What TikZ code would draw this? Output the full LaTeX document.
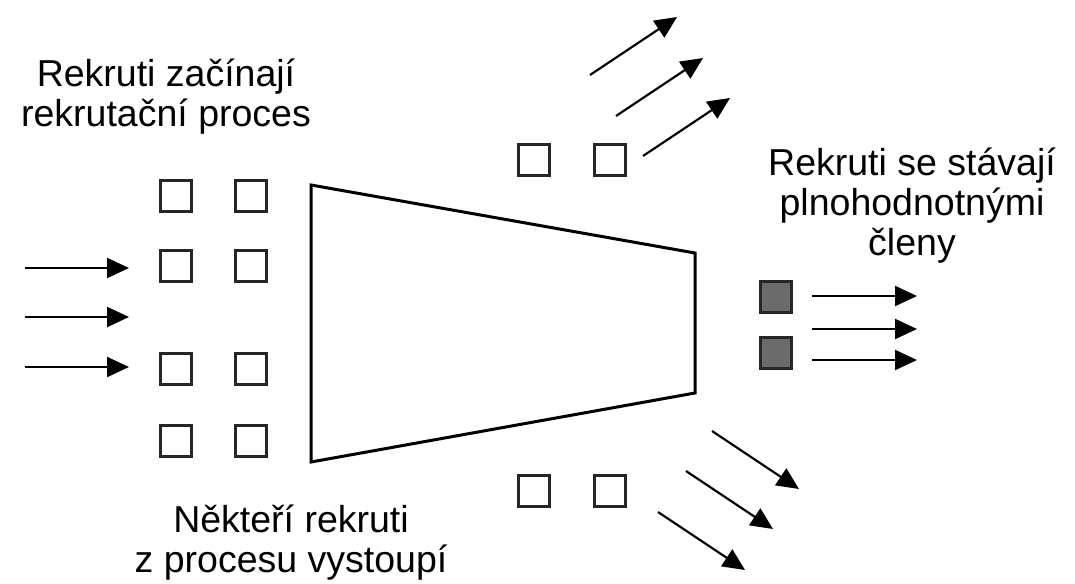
\documentclass[tikz,border=0pt]{standalone}
\usepackage{fontspec}
\setmainfont{Liberation Sans}
\usetikzlibrary{arrows.meta,positioning}

\tikzset{
  sq/.style={draw=black!85, line width=3pt, minimum size=31pt, inner sep=0pt},
  sqfull/.style={sq, fill=black!58},
  flow/.style={line width=2.2pt, -{Triangle[length=22pt,width=20pt]}},
  lbl/.style={align=center, inner sep=0pt, font=\fontsize{37.5}{40}\selectfont}
}

\begin{document}
\begin{tikzpicture}[x=1pt,y=-1pt]
    \useasboundingbox (0,0) rectangle (1075,583);

    \foreach \y in {268,317,367} \draw[flow] (25,\y) -- (129,\y); % coming in
    \foreach \x/\c in {176/a,251/b} \foreach \y/\r in {195.5/1,265.5/2,368.5/3,440.5/4}
        \node[sq] (in\c\r) at (\x,\y) {};
    \node[lbl, anchor=base] (start) at (166,127) {Rekruti začínají\\rekrutační proces};

    \draw[line width=3pt, line join=miter] (311,185) -- (695,253) -- (695,393) -- (311,462) -- cycle; % funnel

    \node[sq] (upa) at (534,160) {}; \node[sq] (upb) at (609.5,160) {};
    \foreach \x/\y in {590/75,616/116,643/156} \draw[flow] (\x,\y) -- ++(87,-58); % leaving up

    \node[sq] (dna) at (533.5,490.5) {}; \node[sq] (dnb) at (609.5,490.5) {};
    \foreach \x/\y in {712/431,686/471,658/512} \draw[flow] (\x,\y) -- ++(87,58); % leaving down
    \node[lbl, anchor=base] (drop) at (291,572) {Někteří rekruti\\z procesu vystoupí};

    \node[sqfull] (outa) at (775.5,297) {}; \node[sqfull] (outb) at (775.5,353) {};
    \foreach \y in {296,329,360} \draw[flow] (812,\y) -- (917,\y); % full members
    \node[lbl, anchor=base] (member) at (912,255) {Rekruti se stávají\\plnohodnotnými\\členy};
\end{tikzpicture}
\end{document}
